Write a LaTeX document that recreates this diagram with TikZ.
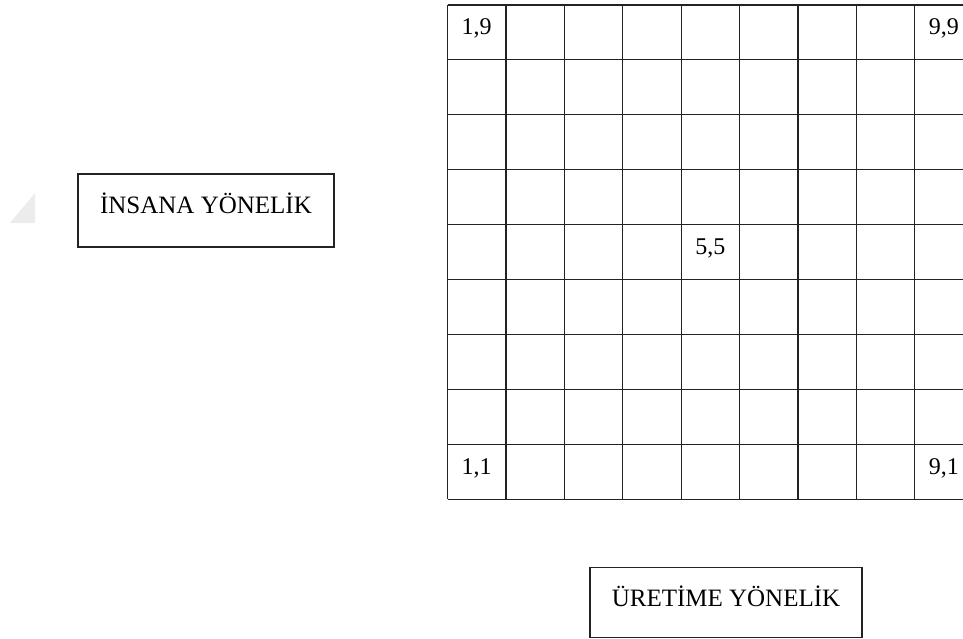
\documentclass[tikz,border=0pt]{standalone}
\usepackage{fontspec}
\setmainfont{Liberation Serif}
\usepackage{tikz}
\usetikzlibrary{positioning}
\definecolor{gridline}{RGB}{35,35,35}
\definecolor{fade}{RGB}{236,236,236}

\begin{document}
\begin{tikzpicture}[x=1pt, y=-1pt,
  lbox/.style={rectangle, draw=gridline, line width=1.2pt, text centered,
               minimum width=256pt, minimum height=73pt, inner sep=0pt,
               text height=17pt, text depth=10pt, font=\fontsize{25}{30}\selectfont},
  cell/.style={anchor=base west, inner sep=0pt, font=\fontsize{24}{28}\selectfont},
  gline/.style={gridline, line width=1.2pt}
]
\useasboundingbox (0,0) rectangle (963,639);

% faint mark on the left
\fill[fade] (10,223) -- (35,193) -- (35,223) -- cycle;

% grid 9x9, cut at the right edge
\foreach \r in {0,...,9}
  \draw[gline] (447.5,5+\r*54.9) -- (963,5+\r*54.9);
\foreach \c in {0,...,8}
  \draw[gline] (447.5+\c*58.4,5) -- (447.5+\c*58.4,499.1);

\node[cell] (c19) at (461.5,35) {1,9};
\node[cell] (c99) at (928.7,35) {9,9};
\node[cell] (c55) at (695.1,254.6) {5,5};
\node[cell] (c11) at (461.5,474.2) {1,1};
\node[cell] (c91) at (928.7,474.2) {9,1};

% labels
\node[lbox] (insan) at (206,210.5) {İNSANA YÖNELİK};
\node[lbox, minimum width=272pt, minimum height=70pt] (uretim) at (726,602.5) {ÜRETİME YÖNELİK};
\end{tikzpicture}
\end{document}
